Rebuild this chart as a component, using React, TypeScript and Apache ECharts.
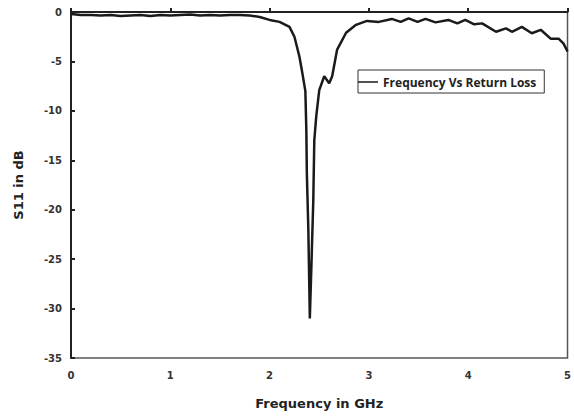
import React, { useEffect, useRef } from "react";
import * as echarts from "echarts";

const freq: number[] = [
  0, 0.1, 0.2, 0.3, 0.4, 0.5, 0.6, 0.7, 0.8, 0.9, 1.0, 1.1, 1.2, 1.3, 1.4, 1.5, 1.6, 1.7, 1.8,
  1.9, 2.0, 2.1, 2.2, 2.25, 2.3, 2.33, 2.36, 2.37, 2.375, 2.39, 2.405, 2.42, 2.44, 2.45, 2.47,
  2.5, 2.55, 2.6, 2.63, 2.68, 2.77, 2.87, 2.98, 3.1, 3.23, 3.32, 3.4, 3.49, 3.57, 3.67, 3.8,
  3.89, 3.97, 4.06, 4.14, 4.28, 4.38, 4.44, 4.54, 4.64, 4.73, 4.83, 4.91, 4.96, 5.0,
];
const s11: number[] = [
  -0.2, -0.3, -0.3, -0.35, -0.3, -0.4, -0.35, -0.3, -0.4, -0.3, -0.35, -0.3, -0.25, -0.35, -0.3,
  -0.35, -0.3, -0.3, -0.35, -0.5, -0.8, -1.0, -1.5, -2.5, -4.5, -6.2, -8.0, -12, -16.3, -22,
  -31, -26, -19, -13, -10.5, -7.9, -6.5, -7.2, -6.5, -3.8, -2.1, -1.3, -0.9, -1.0, -0.7, -1.0,
  -0.65, -1.0, -0.7, -1.05, -0.8, -1.15, -0.8, -1.25, -1.15, -2.0, -1.65, -2.0, -1.5, -2.15, -1.8,
  -2.7, -2.7, -3.2, -4.0,
];
const seriesName = "Frequency Vs Return Loss";
const xName = "Frequency in GHz";
const yName = "S11 in dB";

export default function App() {
  const ref = useRef<HTMLDivElement>(null);
  useEffect(() => {
    if (!ref.current) return;
    const chart = echarts.init(ref.current, null, { renderer: "svg" });
    const labelStyle = {
      fontFamily: "DejaVu Sans",
      fontWeight: "bold" as const,
      fontSize: 10,
      color: "#333",
    };
    chart.setOption({
      animation: false,
      backgroundColor: "#fff",
      grid: {
        left: 71,
        right: 5,
        top: 12,
        bottom: 59,
        show: true,
        borderColor: "#555",
        borderWidth: 1.5,
      },
      legend: {
        data: [seriesName],
        left: 358,
        top: 70,
        padding: [6, 8, 5, 0],
        borderColor: "#333",
        borderWidth: 1,
        borderRadius: 0,
        icon: "rect",
        itemWidth: 20,
        itemHeight: 1.5,
        itemGap: 4,
        textStyle: {
          fontFamily: "Open Sans",
          fontWeight: "bold",
          fontSize: 12,
          color: "#222",
        },
      },
      xAxis: {
        type: "value",
        min: 0,
        max: 5,
        interval: 1,
        name: xName,
        nameLocation: "middle",
        nameGap: 39,
        nameTextStyle: {
          fontFamily: "DejaVu Sans",
          fontWeight: "bold",
          fontSize: 13,
          color: "#222",
        },
        axisLine: { lineStyle: { color: "#222", width: 2 } },
        axisTick: { inside: true, length: 4, lineStyle: { color: "#222", width: 2 } },
        axisLabel: { ...labelStyle, margin: 12 },
        splitLine: { show: false },
      },
      yAxis: {
        type: "value",
        min: -35,
        max: 0,
        interval: 5,
        name: yName,
        nameLocation: "middle",
        nameGap: 46,
        nameRotate: 90,
        nameTextStyle: {
          fontFamily: "DejaVu Sans",
          fontWeight: "bold",
          fontSize: 13,
          color: "#222",
        },
        axisLine: { lineStyle: { color: "#222", width: 2 } },
        axisTick: { inside: true, length: 4, lineStyle: { color: "#222", width: 2 } },
        axisLabel: { ...labelStyle, margin: 9 },
        splitLine: { show: false },
      },
      series: [
        {
          name: seriesName,
          type: "line",
          data: freq.map((f, i) => [f, s11[i]]),
          showSymbol: false,
          symbol: "none",
          lineStyle: { color: "#1a1a1a", width: 2.5 },
          itemStyle: { color: "#1a1a1a" },
        },
      ],
    });
    return () => chart.dispose();
  }, []);
  return (
    <div
      ref={ref}
      style={{ position: "fixed", left: 0, top: 0, width: 574, height: 417 }}
    />
  );
}
